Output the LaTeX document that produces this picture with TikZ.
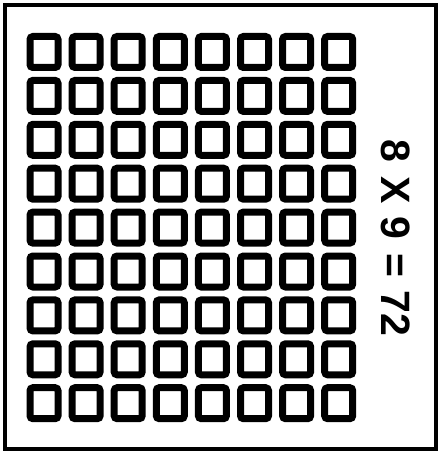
\documentclass[tikz,border=0pt]{standalone}
\usepackage{fontspec}
\setmainfont{Liberation Sans}
\begin{document}
\begin{tikzpicture}[x=1pt,y=-1pt,
  cell/.style={draw=black,line width=7pt,rounded corners=3pt,minimum width=28pt,minimum height=31pt,inner sep=0pt,fill=white},
  frame/.style={draw=black,line width=4pt}]
\useasboundingbox (0,0) rectangle (443,454);
\fill[white] (0,0) rectangle (443,454);
\draw[frame] (5,5) rectangle (436,449);
\foreach \i in {0,...,7}{
  \foreach \j in {0,...,8}{
    \node[cell] (s-\i-\j) at ({44+42.1*\i},{52+43.9*\j}) {};
  }
}
\node[rotate=-90,font=\bfseries\fontsize{41}{41}\selectfont,inner sep=0pt] (eq) at (396,238) {8\hspace{2pt} X\hspace{2pt} 9\hspace{2pt} =\hspace{2pt} 72};
\end{tikzpicture}
\end{document}
